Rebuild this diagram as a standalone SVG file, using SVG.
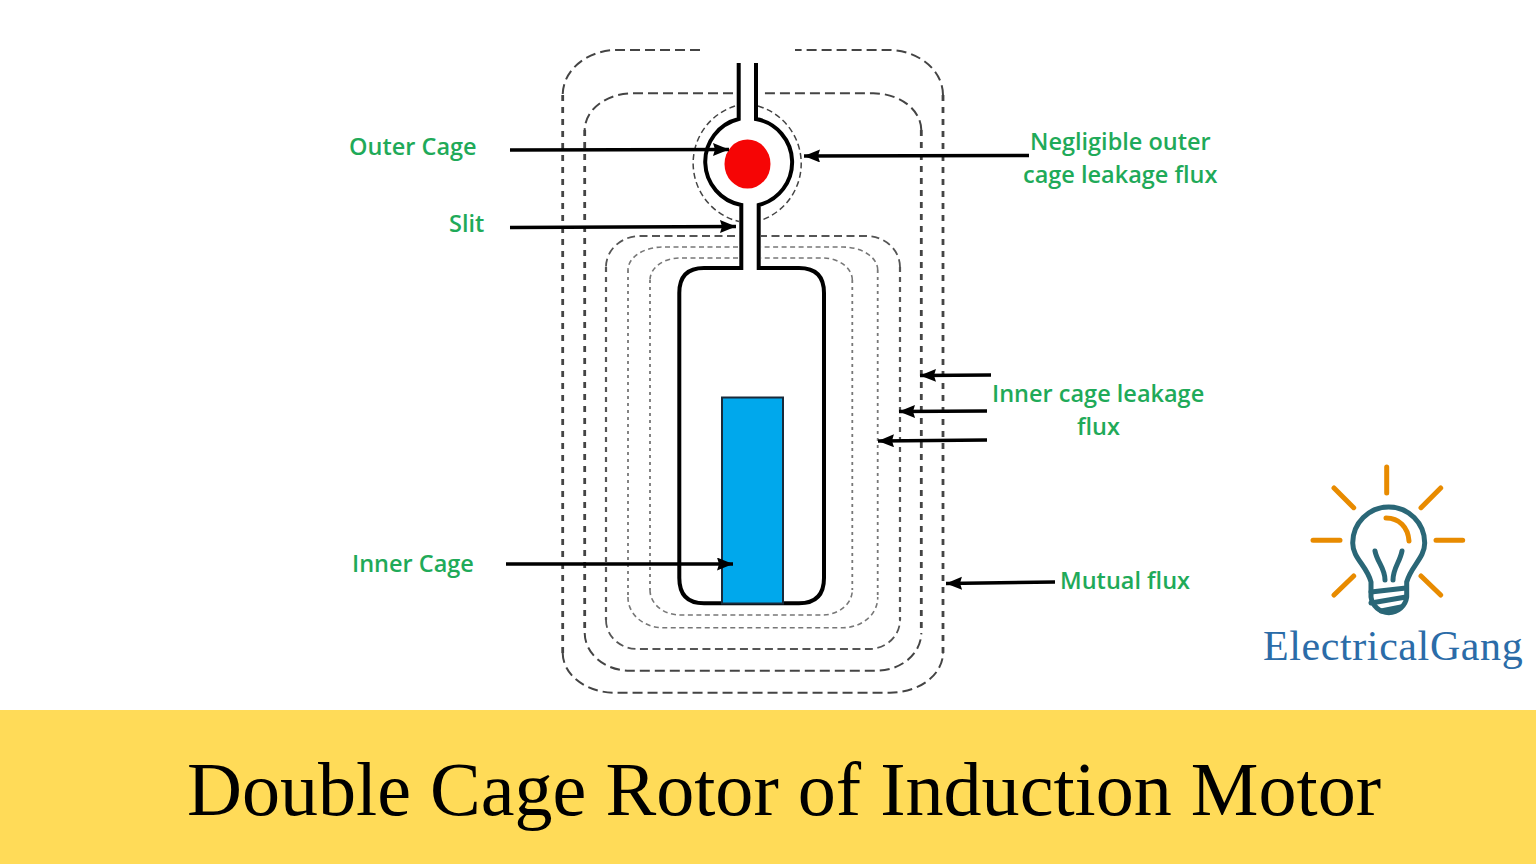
<svg xmlns="http://www.w3.org/2000/svg" width="1536" height="864" viewBox="0 0 1536 864">
<style>
.lbl{font-family:"Open Sans","Liberation Sans",sans-serif;font-weight:600;font-size:23.500px;fill:#1faa59}
.flux{fill:none;stroke:#444;stroke-linecap:butt}
.f1{stroke-width:2px;stroke-dasharray:10 5}
.v1{stroke-width:2.800px;stroke-dasharray:6 6}
.f2{stroke-width:1.800px;stroke-dasharray:8 4.500;stroke:#555}
.v2{stroke-width:2.200px;stroke-dasharray:5 5;stroke:#555}
.f3{stroke-width:1.600px;stroke-dasharray:5 3.500;stroke:#777}
.v3{stroke-width:1.800px;stroke-dasharray:3 4;stroke:#777}
.wall{fill:none;stroke:#000;stroke-width:4px}
.arr{fill:none;stroke:#000;stroke-width:3.500px}
.ray{fill:none;stroke:#e88b00;stroke-width:5px;stroke-linecap:round}
.bulb{fill:none;stroke:#2a6777;stroke-width:5px;stroke-linecap:round;stroke-linejoin:round}
</style>
<defs>
<marker id="ah" markerUnits="userSpaceOnUse" markerWidth="18" markerHeight="14" refX="16" refY="6.500" orient="auto"><path d="M0 0L16 6.500L0 13L2 6.500Z" fill="#000"/></marker>
</defs>
<rect width="1536" height="864" fill="#fff"/>
<rect id="band" x="0" y="710" width="1536" height="154" fill="#ffdb58"/>
<g id="flux-lines">
<path class="flux f1" d="M700 50H617A54.300 45 0 0 0 562.700 95M562.700 653A52 40 0 0 0 615 692.700H890A53 40 0 0 0 943 653M943 95A55 45 0 0 0 888 50H795"/>
<path class="flux v1" d="M562.700 95V653M943 95V653"/>
<path class="flux f1" d="M733 93.300H633A48 37 0 0 0 584.700 130M584.700 633A45 38 0 0 0 630 670.700H876A45 38 0 0 0 921.300 633M921.300 130A48 37 0 0 0 873 93.300H762"/>
<path class="flux v1" d="M584.700 130V633M921.300 130V633"/>
<path class="flux f2" d="M735 236H640A34 31 0 0 0 606 267M606 620A31 29 0 0 0 637 649H869A31 29 0 0 0 900 620M900 267A34 31 0 0 0 866 236H761"/>
<path class="flux v2" d="M606 267V620M900 267V620"/>
<path class="flux f3" d="M738 247H663A35 23 0 0 0 628 270M628 597A35 30 0 0 0 663 627.700H843A35 30 0 0 0 877.700 597M877.700 270A35 23 0 0 0 843 247H761"/>
<path class="flux v3" d="M628 270V597M877.700 270V597"/>
<path class="flux f3" d="M738 258H680A30 22 0 0 0 650 280M650 590A30 25 0 0 0 680 615H822A30 25 0 0 0 852.300 590M852.300 280A30 22 0 0 0 822 258H761"/>
<path class="flux v3" d="M650 280V590M852.300 280V590"/>
<path class="flux" stroke-width="1.500" stroke-dasharray="6 3.500" d="M735 106A60 60 0 0 0 739 221.500"/>
<path class="flux" stroke-width="1.500" stroke-dasharray="6 3.500" d="M758 106A60 60 0 0 1 761.700 220"/>
</g>
<g id="slot">
<path class="wall" d="M738.700 63V119A44 44 0 0 0 741.300 205V268H704Q679.300 268 679.300 293V578Q679.300 603.300 704 603.300H799Q824 603.300 824 578V293Q824 268 799 268H758.700V205A44 44 0 0 0 756 119V63"/>
</g>
<g id="outer-cage"><ellipse cx="747.500" cy="164" rx="23" ry="24.500" fill="#f60505"/></g>
<g id="inner-cage"><rect x="722" y="397.500" width="61" height="206" fill="#00a8ec" stroke="#1a2a3a" stroke-width="2"/></g>
<g id="connectors">
<path class="arr" marker-end="url(#ah)" d="M510 150L729 149.500"/>
<path class="arr" marker-end="url(#ah)" d="M1029 155.500L804 156"/>
<path class="arr" marker-end="url(#ah)" d="M510 227.500L736 226.500"/>
<path class="arr" marker-end="url(#ah)" d="M991 375L920 375.500"/>
<path class="arr" marker-end="url(#ah)" d="M987 411L899 411.500"/>
<path class="arr" marker-end="url(#ah)" d="M987 440L878 441"/>
<path class="arr" marker-end="url(#ah)" d="M506 564H733"/>
<path class="arr" marker-end="url(#ah)" d="M1055 582L946 583.500"/>
</g>
<g id="labels">
<text class="lbl" x="349" y="155">Outer Cage</text>
<text class="lbl" x="449" y="232">Slit</text>
<text class="lbl" x="1030" y="150">Negligible outer</text>
<text class="lbl" x="1023" y="183">cage leakage flux</text>
<text class="lbl" x="992" y="402">Inner cage leakage</text>
<text class="lbl" x="1077" y="435">flux</text>
<text class="lbl" x="352" y="572">Inner Cage</text>
<text class="lbl" x="1060" y="589">Mutual flux</text>
</g>
<g id="logo">
<path class="ray" d="M1386.700 467V493M1334 488L1353.700 507.700M1440.700 488L1421 507.700M1313 540.300H1340M1436 540.300H1462.700M1353.700 576L1334 595M1421 576L1440.700 595"/>
<path class="bulb" d="M1371 582C1367 566 1352.700 558 1352.700 543A36 36 0 0 1 1424.700 543C1424.700 558 1411 566 1406.700 582V597A18 18 0 0 1 1371 597Z"/>
<path class="ray" d="M1386 518C1399 518 1408 527 1409 541"/>
<path class="bulb" d="M1375 551C1377 562 1385 568 1385 580M1402 551C1400 562 1393 568 1393 580M1371 592L1406 588M1371 603L1406 597M1381 611L1401 607"/>
<text x="1263" y="660" font-family="'Liberation Serif',serif" font-size="42" letter-spacing="0.600" fill="#2b6ca8">ElectricalGang</text>
</g>
<text id="title" x="187" y="815" font-family="'Liberation Serif',serif" font-size="76.100" fill="#000">Double Cage Rotor of Induction Motor</text>
</svg>
